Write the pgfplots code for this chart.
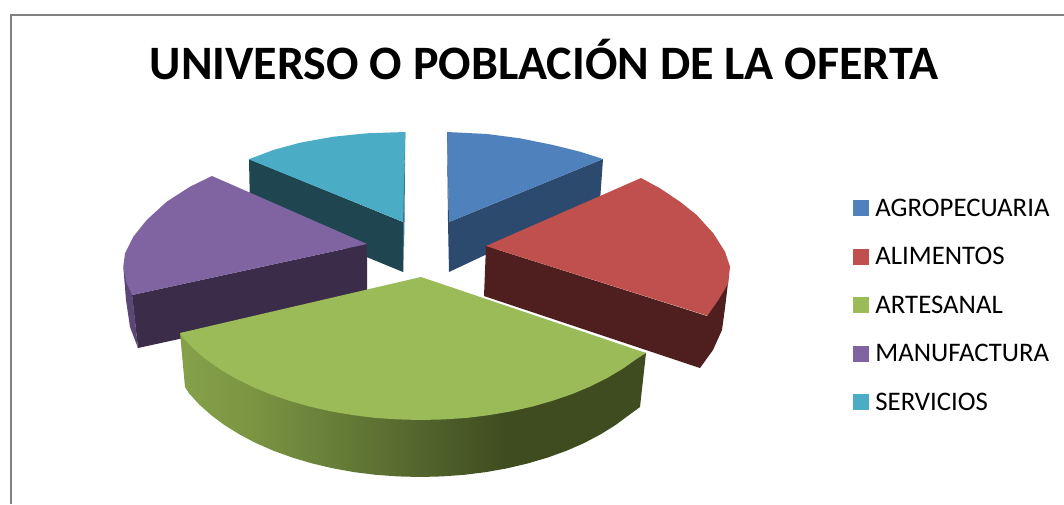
\documentclass[border=0pt]{standalone}
\usepackage{pgfplots}
\pgfplotsset{compat=1.18}
\usepackage{fontspec}
\setmainfont{Carlito}
\definecolor{cA}{HTML}{4F81BD}\definecolor{cAd}{HTML}{2C4A6E}
\definecolor{cB}{HTML}{C0504D}\definecolor{cBd}{HTML}{4E1F1E}
\definecolor{cC}{HTML}{9BBB59}
\definecolor{cD}{HTML}{8064A2}\definecolor{cDd}{HTML}{3B2C4A}\definecolor{cDs}{HTML}{5B4775}
\definecolor{cE}{HTML}{4BACC6}\definecolor{cEd}{HTML}{1F4650}
\definecolor{gsa}{HTML}{86A14A}\definecolor{gsb}{HTML}{7A9442}\definecolor{gsc}{HTML}{5F7534}\definecolor{gsd}{HTML}{3F4C20}
\pgfdeclarehorizontalshading{greenside}{100bp}{color(0bp)=(gsa);color(25bp)=(gsa);color(33bp)=(gsb);color(45bp)=(gsc);color(60bp)=(gsd);color(100bp)=(gsd)}
\begin{document}
\begin{tikzpicture}
\useasboundingbox (0,0) rectangle (1064pt,504pt);
\begin{axis}[
  at={(0,0)}, anchor=south west,
  scale only axis, width=1064pt, height=504pt,
  xmin=0, xmax=1064, ymin=0, ymax=504, y dir=reverse,
  hide axis, clip=false,
  legend style={at={(axis cs:853,196.5)}, anchor=north west, draw=none, fill=none,
    font=\fontsize{26.8}{28}\selectfont, row sep=25.6pt,
    legend cell align=left, inner sep=0pt},
  legend image code/.code={\fill[#1] (0pt,-7.5pt) rectangle (15pt,7.5pt); \path[draw=none,fill=none] (0pt,0pt) -- (20pt,0pt);},
]
\addlegendimage{cA}\addlegendentry{AGROPECUARIA}
\addlegendimage{cB}\addlegendentry{ALIMENTOS}
\addlegendimage{cC}\addlegendentry{ARTESANAL}
\addlegendimage{cD}\addlegendentry{MANUFACTURA}
\addlegendimage{cE}\addlegendentry{SERVICIOS}
% frame
\addplot[forget plot, draw=black!50, line width=1.6pt] coordinates {(1064,15)(11,15)(11,504)};
% SERVICIOS
\addplot[forget plot, fill=cEd, draw=none] coordinates {(249,159)(403,222)(403,272)(250,209)} -- cycle;
\addplot[forget plot, fill=cE, draw=none] coordinates {(248.7,159.3)(273.3,150)(300,142.7)(333.3,136.7)(366.7,133.3)(405.3,132)(403.5,222)} -- cycle;
\addplot[forget plot, fill=cE!70!black, draw=none] coordinates {(405.3,132)(404.5,222)(403.5,272)(403,222)} -- cycle;
% AGROPECUARIA
\addplot[forget plot, fill=cAd, draw=none] coordinates {(603,159)(449,222)(449,272)(600,201)} -- cycle;
\addplot[forget plot, fill=cA, draw=none] coordinates {(447,132)(487,134)(520,138.3)(553,145)(580,151.7)(603,159)(449,222)} -- cycle;
\addplot[forget plot, fill=cAd, draw=none] coordinates {(447,132)(449,222)(449,272)(448,222)} -- cycle;
% MANUFACTURA
\addplot[forget plot, fill=cDd, draw=none] coordinates {(132,295)(367,244)(367,298)(138,348)} -- cycle;
\addplot[forget plot, fill=cDs, draw=none] coordinates {(123.3,266.7)(132.3,295)(138,348)(130,327)(126,300)} -- cycle;
\addplot[forget plot, fill=cD, draw=none] coordinates {(212,176)(190,186.7)(166.7,201.7)(146.7,220)(133.3,236.7)(125,253.3)(123.3,266.7)(126.7,283.3)(132.3,295)(367,244)} -- cycle;
% ALIMENTOS
\addplot[forget plot, fill=cBd, draw=none] coordinates {(486,246)(707,316)(728,283)(725,308)(722,330)(713,350)(700,368)(484,296)} -- cycle;
\addplot[forget plot, fill=cB, draw=none] coordinates {(641,178)(660,188.3)(680,201.7)(696.7,215)(713.3,233.3)(725,251.7)(730,266.7)(728.3,283.3)(718.3,300)(707.3,315.7)(486,246)} -- cycle;
% ARTESANAL
\addplot[forget plot, shading=greenside, draw=none] coordinates {(646,353)(640,407)(628.8,415.2)(615.3,425.2)(600.3,434.5)(584,443.1)(566.4,450.8)(547.5,457.6)(527.9,463.4)(507.2,468.3)(486,472.1)(464.4,474.8)(442.2,476.4)(420,477)(397.8,476.4)(375.6,474.8)(354,472.1)(332.8,468.3)(312.1,463.4)(292.5,457.6)(273.6,450.8)(256,443.1)(239.7,434.5)(224.7,425.2)(211.2,415.2)(199.2,404.5)(189,393.3)(185,387)(180,333)(421,330)} -- cycle;
\addplot[forget plot, fill=cC, draw=none] coordinates {(421,277)(646,353)(636.4,359.1)(622.5,368.9)(607,378.1)(590.1,386.5)(572,394.1)(552.5,400.8)(532.2,406.6)(511,411.4)(489.1,415.1)(466.8,417.9)(443.9,419.4)(421,420)(398.1,419.4)(375.2,417.9)(352.9,415.1)(331,411.4)(309.8,406.6)(289.5,400.8)(270,394.1)(251.9,386.5)(235,378.1)(219.5,368.9)(205.6,359.1)(193.2,348.5)(182.6,337.4)(180,333)} -- cycle;
\node[font=\fontsize{48}{50}\selectfont\bfseries, anchor=center] at (axis cs:544,60) {UNIVERSO O POBLACIÓN DE LA OFERTA};
\end{axis}
\end{tikzpicture}
\end{document}
